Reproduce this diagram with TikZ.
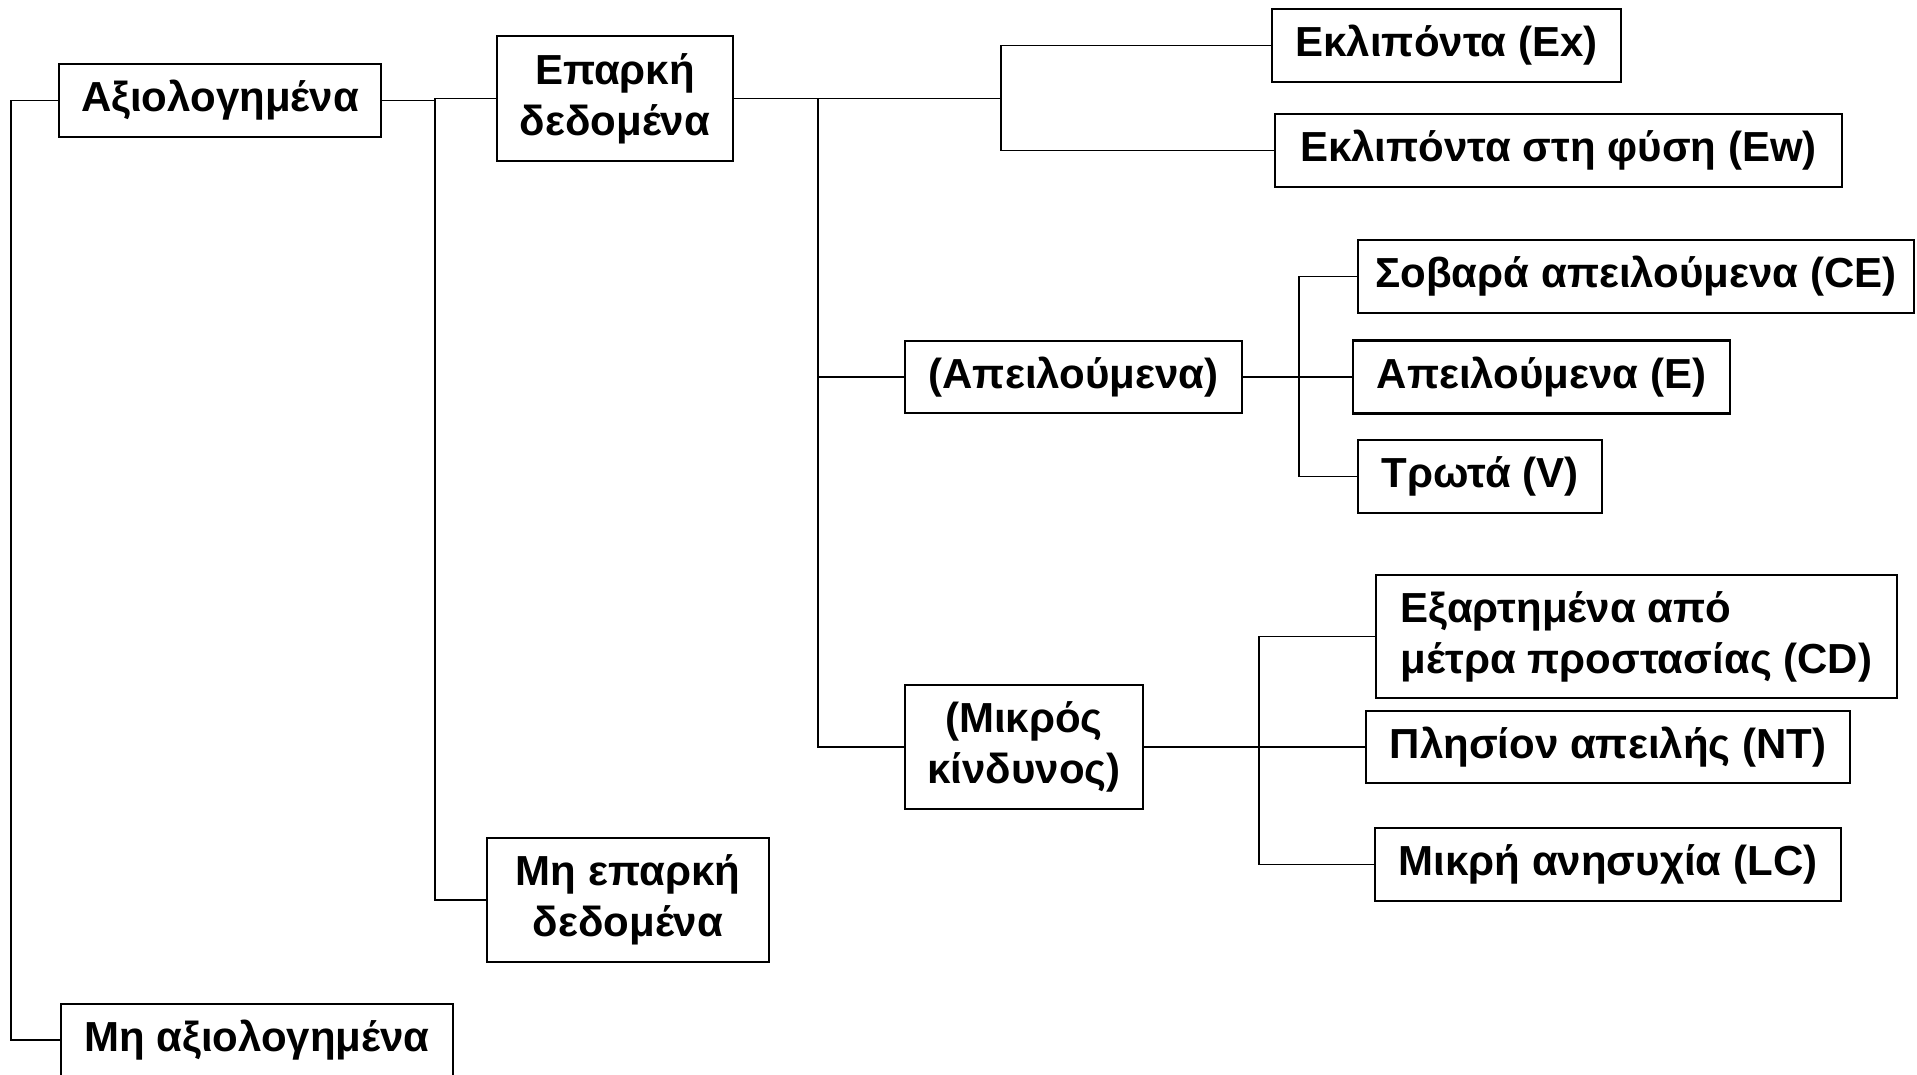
\documentclass[tikz,border=0pt]{standalone}
\usepackage{fontspec}
\setmainfont{Liberation Sans}
\begin{document}
\begin{tikzpicture}[x=1pt,y=-1pt,
  box/.style={draw=black,line width=2.2pt,fill=white,inner sep=0pt,align=center,
    font=\fontsize{42}{51}\selectfont\bfseries},
  conn/.style={draw=black,line width=1.8pt}]
\useasboundingbox (0,0) rectangle (1917,1074);
% boxes
\node[box,minimum width=322,minimum height=73] (axio) at (220,100.5) {Αξιολογημένα};
\node[box,minimum width=236,minimum height=125] (eparki) at (615,98.5) {Επαρκή\\δεδομένα};
\node[box,minimum width=349,minimum height=73] (ex) at (1446.5,45.5) {Εκλιπόντα (Ex)};
\node[box,minimum width=567,minimum height=73] (ew) at (1558.5,150.5) {Εκλιπόντα στη φύση (Ew)};
\node[box,minimum width=556,minimum height=73] (ce) at (1636,276.5) {Σοβαρά απειλούμενα (CE)};
\node[box,minimum width=337,minimum height=72] (apeil) at (1073.5,377) {(Απειλούμενα)};
\node[box,minimum width=377,minimum height=73] (e) at (1541.5,377) {Απειλούμενα (E)};
\node[box,minimum width=244,minimum height=73] (v) at (1480,476.5) {Τρωτά (V)};
\node[box,minimum width=238,minimum height=124] (mikros) at (1024,747) {(Μικρός\\κίνδυνος)};
\node[box,minimum width=521,minimum height=123,align=left] (cd) at (1636.5,636.5) {Εξαρτημένα από\\μέτρα προστασίας (CD)};
\node[box,minimum width=484,minimum height=72] (nt) at (1608,747) {Πλησίον απειλής (NT)};
\node[box,minimum width=466,minimum height=73] (lc) at (1608,864.5) {Μικρή ανησυχία (LC)};
\node[box,minimum width=282,minimum height=124] (mieparki) at (628,900) {Μη επαρκή\\δεδομένα};
\node[box,minimum width=392,minimum height=72] (miaxio) at (257,1040) {Μη αξιολογημένα};
% junction columns
\coordinate (x0) at (11,0);
\coordinate (x1) at (435,0);
\coordinate (x2) at (818,0);
\coordinate (x3) at (1001,0);
\coordinate (x4) at (1299,0);
\coordinate (x5) at (1259,0);
% connectors
\draw[conn] (axio.west) -- (axio.west -| x0) |- (miaxio.west);
\draw[conn] (axio.east) -- (axio.east -| x1) |- (eparki.west);
\draw[conn] (axio.east -| x1) |- (mieparki.west);
\draw[conn] (eparki.east) -- (eparki.east -| x3) |- (ex.west);
\draw[conn] (eparki.east -| x3) |- (ew.west);
\draw[conn] (eparki.east -| x2) |- (apeil.west);
\draw[conn] (eparki.east -| x2) |- (mikros.west);
\draw[conn] (apeil.east) -- (e.west);
\draw[conn] (apeil.east -| x4) |- (ce.west);
\draw[conn] (apeil.east -| x4) |- (v.west);
\draw[conn] (mikros.east) -- (nt.west);
\draw[conn] (mikros.east -| x5) |- (cd.west);
\draw[conn] (mikros.east -| x5) |- (lc.west);
\end{tikzpicture}
\end{document}
